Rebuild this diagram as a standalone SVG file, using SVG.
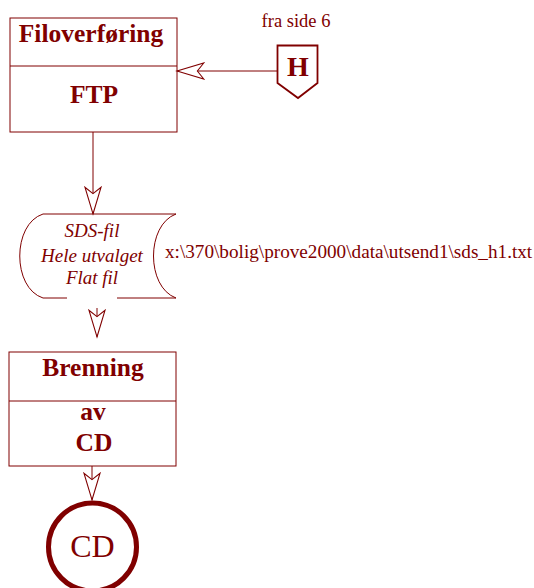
<svg xmlns="http://www.w3.org/2000/svg" width="534" height="588" viewBox="0 0 534 588">
<style>
.box{fill:none;stroke:#800000;stroke-width:1}
.line{fill:none;stroke:#800000;stroke-width:1}
.t{fill:#800000;font-family:"Liberation Serif","Times New Roman",serif;text-anchor:middle}
.b{font-weight:bold;font-size:25.5px}
.i{font-style:italic;font-size:19px}
</style>
<defs>
<marker id="arr" markerUnits="userSpaceOnUse" markerWidth="30" markerHeight="20" viewBox="-26 -9 28 18" refX="0" refY="0" orient="auto">
<path d="M0,0 L-25,-7.5 L-19,0 L-25,7.5 Z" fill="#fff" stroke="#800000" stroke-width="1"/>
</marker>
</defs>
<rect width="534" height="588" fill="#fff"/>
<g id="connectors">
<line class="line" x1="278" y1="71" x2="177" y2="71" marker-end="url(#arr)"/>
<line class="line" x1="93" y1="132" x2="93" y2="214" marker-end="url(#arr)"/>
<line class="line" x1="97" y1="308" x2="97" y2="337" marker-end="url(#arr)"/>
<line class="line" x1="92" y1="466" x2="92" y2="500" marker-end="url(#arr)"/>
</g>
<g id="filoverforing">
<rect class="box" x="10" y="18" width="167" height="114"/>
<line class="box" x1="10" y1="66" x2="177" y2="66"/>
<text class="t b" x="91" y="42">Filoverføring</text>
<text class="t b" x="94" y="103">FTP</text>
</g>
<g id="offpage-H">
<text class="t" x="296" y="27" font-size="18.5">fra side 6</text>
<path d="M277.5,45.5 L317.5,45.5 L317.5,83 L298,98 L277.5,83 Z" fill="#fff" stroke="#800000" stroke-width="1.8"/>
<text class="t" x="298" y="76" font-size="28" font-weight="bold">H</text>
</g>
<g id="sds-fil">
<path class="line" d="M43,214 L176,214 C146,225 146,287 176,298 L117,298 M67,298 L43,298 C12,288 12,224 43,214"/>
<text class="t i" x="92" y="237">SDS-fil</text>
<text class="t i" x="92" y="262">Hele utvalget</text>
<text class="t i" x="92" y="284">Flat fil</text>
<text class="t" x="165" y="258" font-size="19.2" style="text-anchor:start">x:\370\bolig\prove2000\data\utsend1\sds_h1.txt</text>
</g>
<g id="brenning">
<rect class="box" x="9" y="352" width="167" height="114"/>
<line class="box" x1="9" y1="401" x2="176" y2="401"/>
<text class="t b" x="93" y="376">Brenning</text>
<text class="t b" x="93" y="420">av</text>
<text class="t b" x="94" y="451">CD</text>
</g>
<g id="cd">
<circle cx="92.5" cy="547" r="44" fill="none" stroke="#800000" stroke-width="5"/>
<text class="t" x="92.5" y="557" font-size="32">CD</text>
</g>
</svg>
